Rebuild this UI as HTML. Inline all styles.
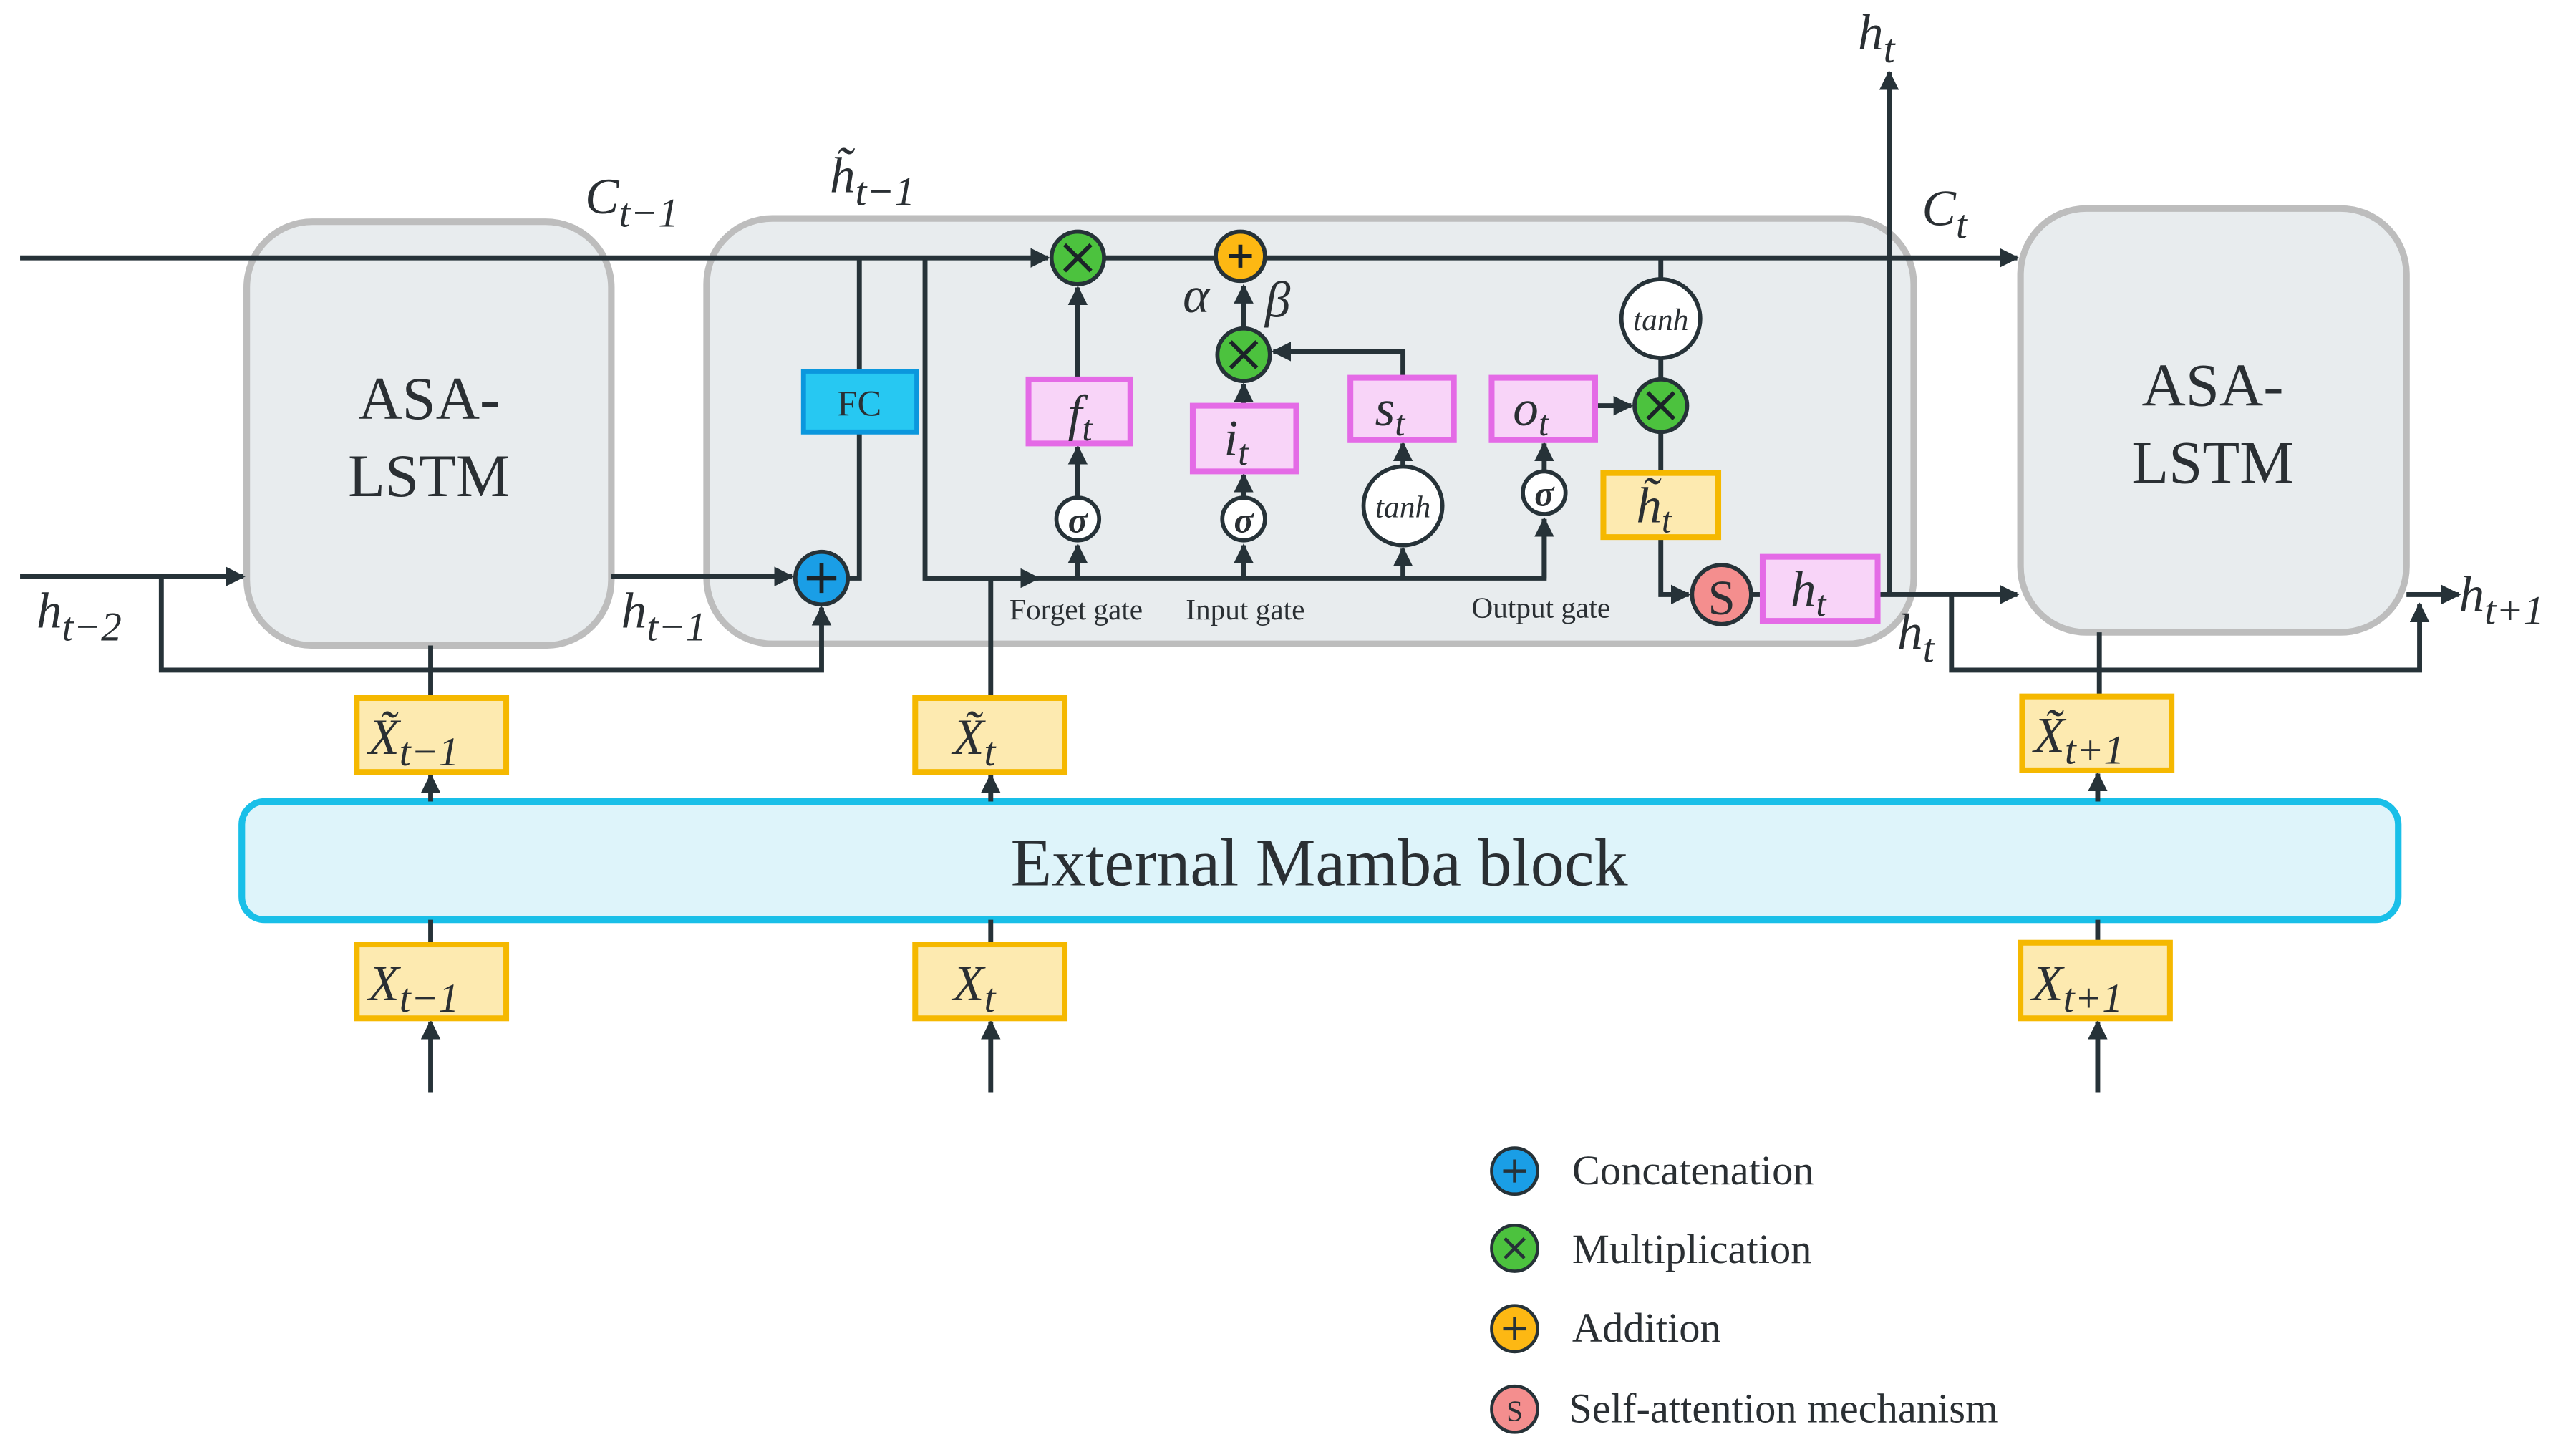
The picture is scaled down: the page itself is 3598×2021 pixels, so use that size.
<!DOCTYPE html>
<html><head><meta charset="utf-8"><style>
html,body{margin:0;padding:0;background:#fff;}
svg{display:block;}
.m{font-family:"Liberation Serif",serif;font-style:italic;fill:#2a2f33;}
.s{font-family:"Liberation Serif",serif;fill:#2a2f33;}
</style></head><body>
<svg width="3598" height="2021" viewBox="0 0 1568 881" xmlns="http://www.w3.org/2000/svg">
<defs>
<marker id="a" viewBox="0 0 10 10" refX="9" refY="5" markerWidth="4" markerHeight="4" orient="auto-start-reverse"><path d="M0,0L10,5L0,10z" fill="#263238"/></marker>
</defs>
<rect x="150" y="135" width="222" height="258" rx="40" fill="#e8ecee" stroke="#bdbdbd" stroke-width="4"/>
<rect x="430" y="133" width="735" height="259" rx="40" fill="#e8ecee" stroke="#bdbdbd" stroke-width="4"/>
<rect x="1230" y="127" width="235" height="258" rx="40" fill="#e8ecee" stroke="#bdbdbd" stroke-width="4"/>
<text class="s" x="261" y="255" font-size="37" text-anchor="middle">ASA-</text>
<text class="s" x="261" y="302" font-size="37" text-anchor="middle">LSTM</text>
<text class="s" x="1347" y="247" font-size="37" text-anchor="middle">ASA-</text>
<text class="s" x="1347" y="294" font-size="37" text-anchor="middle">LSTM</text>
<rect x="147" y="488" width="1313" height="72" rx="14" fill="#def4fa" stroke="#19bfe8" stroke-width="4"/>
<text class="s" x="803" y="539" font-size="41" text-anchor="middle">External Mamba block</text>

<g stroke="#263238" stroke-width="3" fill="none">
<line x1="12" y1="157" x2="638" y2="157" marker-end="url(#a)"/>
<line x1="672" y1="157" x2="739" y2="157"/>
<line x1="771" y1="157" x2="1228" y2="157" marker-end="url(#a)"/>
<polyline points="516,352 523,352 523,157"/>
<polyline points="563,157 563,352 940,352 940,316" />
<line x1="563" y1="352" x2="632" y2="352" marker-end="url(#a)"/>
<line x1="12" y1="351" x2="148" y2="351" marker-end="url(#a)"/>
<polyline points="98,351 98,408 500,408 500,370" marker-end="url(#a)"/>
<line x1="372" y1="351" x2="482" y2="351" marker-end="url(#a)"/>
<line x1="262" y1="393" x2="262" y2="425"/>
<line x1="603" y1="425" x2="603" y2="352"/>
<line x1="262" y1="488" x2="262" y2="472" marker-end="url(#a)"/>
<line x1="603" y1="488" x2="603" y2="472" marker-end="url(#a)"/>
<line x1="1277" y1="488" x2="1277" y2="471" marker-end="url(#a)"/>
<line x1="262" y1="575" x2="262" y2="560"/>
<line x1="603" y1="575" x2="603" y2="560"/>
<line x1="1277" y1="574" x2="1277" y2="560"/>
<line x1="262" y1="665" x2="262" y2="622" marker-end="url(#a)"/>
<line x1="603" y1="665" x2="603" y2="622" marker-end="url(#a)"/>
<line x1="1277" y1="665" x2="1277" y2="622" marker-end="url(#a)"/>
<line x1="656" y1="352" x2="656" y2="332" marker-end="url(#a)"/>
<line x1="656" y1="302" x2="656" y2="272" marker-end="url(#a)"/>
<line x1="656" y1="231" x2="656" y2="175" marker-end="url(#a)"/>
<line x1="757" y1="352" x2="757" y2="332" marker-end="url(#a)"/>
<line x1="757" y1="302" x2="757" y2="289" marker-end="url(#a)"/>
<line x1="757" y1="247" x2="757" y2="234" marker-end="url(#a)"/>
<line x1="757" y1="200" x2="757" y2="174" marker-end="url(#a)"/>
<polyline points="854,230 854,214 775,214" marker-end="url(#a)"/>
<line x1="854" y1="352" x2="854" y2="334" marker-end="url(#a)"/>
<line x1="854" y1="284" x2="854" y2="270" marker-end="url(#a)"/>
<line x1="940" y1="352" x2="940" y2="316" marker-end="url(#a)"/>
<line x1="940" y1="286" x2="940" y2="270" marker-end="url(#a)"/>
<line x1="971" y1="247" x2="993" y2="247" marker-end="url(#a)"/>
<line x1="1011" y1="157" x2="1011" y2="170"/>
<line x1="1011" y1="218" x2="1011" y2="231"/>
<line x1="1011" y1="263" x2="1011" y2="288"/>
<polyline points="1011,327 1011,362 1028,362" marker-end="url(#a)"/>
<line x1="1066" y1="362" x2="1073" y2="362"/>
<line x1="1143" y1="362" x2="1228" y2="362" marker-end="url(#a)"/>
<line x1="1150" y1="362" x2="1150" y2="44" marker-end="url(#a)"/>
<line x1="1278" y1="385" x2="1278" y2="424"/>
<polyline points="1188,362 1188,408 1473,408 1473,368" marker-end="url(#a)"/>
<line x1="1465" y1="362" x2="1497" y2="362" marker-end="url(#a)"/>
</g>

<g fill="#fdeab0" stroke="#f5b800" stroke-width="3.5">
<rect x="217" y="425" width="91" height="45"/>
<rect x="557" y="425" width="91" height="45"/>
<rect x="1231" y="424" width="91" height="45"/>
<rect x="217" y="575" width="91" height="45"/>
<rect x="557" y="575" width="91" height="45"/>
<rect x="1230" y="574" width="91" height="46"/>
<rect x="976" y="288" width="70" height="39"/>
</g>
<g fill="#f8d4f8" stroke="#e46be6" stroke-width="3.5">
<rect x="626" y="231" width="62" height="39"/>
<rect x="726" y="247" width="63" height="40"/>
<rect x="822" y="230" width="63" height="38"/>
<rect x="908" y="230" width="63" height="38"/>
<rect x="1073" y="339" width="70" height="39"/>
</g>
<rect x="489" y="226" width="69" height="37" fill="#27c8f2" stroke="#0b97dd" stroke-width="3"/>
<text class="s" x="523" y="253" font-size="22" text-anchor="middle">FC</text>

<g stroke="#263238" stroke-width="2.5">
<circle cx="500" cy="352" r="16" fill="#1a9ee6"/>
<circle cx="656" cy="157" r="16" fill="#4cc23e"/>
<circle cx="757" cy="216" r="16" fill="#4cc23e"/>
<circle cx="1011" cy="247" r="16" fill="#4cc23e"/>
<circle cx="755" cy="156" r="15" fill="#fdb813"/>
<circle cx="1048" cy="362" r="18" fill="#f48e8e"/>
<circle cx="1011" cy="194" r="24" fill="#fff"/>
<circle cx="854" cy="308" r="24" fill="#fff"/>
<circle cx="656" cy="316" r="13" fill="#fff"/>
<circle cx="757" cy="316" r="13" fill="#fff"/>
<circle cx="940" cy="300" r="13" fill="#fff"/>
</g>
<g stroke="#1b2328" stroke-width="2.5">
<path d="M491,352h18M500,343v18"/>
<path d="M748,156h14M755,149v14"/>
<path d="M648,149l16,16M664,149l-16,16M749,208l16,16M765,208l-16,16M1003,239l16,16M1019,239l-16,16"/>
</g>
<text class="s" x="1048" y="374" font-size="30" text-anchor="middle">S</text>
<g class="m" text-anchor="middle">
<text x="1011" y="201" font-size="19">tanh</text>
<text x="854" y="315" font-size="19">tanh</text>
<text x="656" y="324" font-size="22" font-weight="bold">σ</text>
<text x="757" y="324" font-size="22" font-weight="bold">σ</text>
<text x="940" y="308" font-size="22" font-weight="bold">σ</text>
</g>
<g class="m" font-size="31">
<text x="650" y="262">f<tspan font-size="22" dy="6">t</tspan></text>
<text x="745" y="277">i<tspan font-size="22" dy="6">t</tspan></text>
<text x="837" y="259">s<tspan font-size="22" dy="6">t</tspan></text>
<text x="921" y="259">o<tspan font-size="22" dy="6">t</tspan></text>
<text x="996" y="318">h̃<tspan font-size="22" dy="6">t</tspan></text>
<text x="1090" y="369">h<tspan font-size="22" dy="6">t</tspan></text>
<text x="224" y="459">X̃<tspan font-size="25" dy="7">t−1</tspan></text>
<text x="580" y="459">X̃<tspan font-size="25" dy="7">t</tspan></text>
<text x="1238" y="458">X̃<tspan font-size="25" dy="7">t+1</tspan></text>
<text x="224" y="609">X<tspan font-size="25" dy="7">t−1</tspan></text>
<text x="580" y="609">X<tspan font-size="25" dy="7">t</tspan></text>
<text x="1237" y="609">X<tspan font-size="25" dy="7">t+1</tspan></text>
<text x="356" y="130">C<tspan font-size="25" dy="8">t−1</tspan></text>
<text x="505" y="117">h̃<tspan font-size="25" dy="8">t−1</tspan></text>
<text x="1170" y="137">C<tspan font-size="25" dy="8">t</tspan></text>
<text x="1131" y="30">h<tspan font-size="25" dy="8">t</tspan></text>
<text x="22" y="382">h<tspan font-size="25" dy="8">t−2</tspan></text>
<text x="378" y="382">h<tspan font-size="25" dy="8">t−1</tspan></text>
<text x="1155" y="395">h<tspan font-size="25" dy="8">t</tspan></text>
<text x="1497" y="372">h<tspan font-size="25" dy="8">t+1</tspan></text>
<text x="720" y="190">α</text>
<text x="770" y="193">β</text>
</g>
<g class="s" font-size="18" text-anchor="middle">
<text x="655" y="377">Forget gate</text>
<text x="758" y="377">Input gate</text>
<text x="938" y="376">Output gate</text>
</g>
<g stroke="#263238" stroke-width="2">
<circle cx="922" cy="713" r="14" fill="#1a9ee6"/>
<circle cx="922" cy="760" r="14" fill="#4cc23e"/>
<circle cx="922" cy="809" r="14" fill="#fdb813"/>
<circle cx="922" cy="858" r="14" fill="#f48e8e"/>
<path d="M915,713h14M922,706v14M915,809h14M922,802v14M916,754l12,12M928,754l-12,12"/>
</g>
<text class="s" x="922" y="865" font-size="18" text-anchor="middle">S</text>
<g class="s" font-size="25.5">
<text x="957" y="721">Concatenation</text>
<text x="957" y="769">Multiplication</text>
<text x="957" y="817">Addition</text>
<text x="955" y="866">Self-attention mechanism</text>
</g>
</svg>
</body></html>
